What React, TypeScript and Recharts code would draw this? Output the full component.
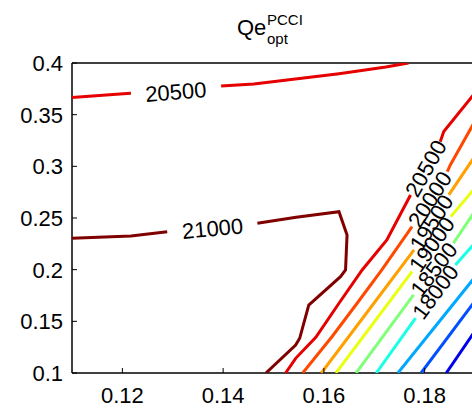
import React from "react";
import { ComposedChart, Line, Scatter, XAxis, YAxis, ReferenceLine } from "recharts";

// axis ticks
const xTicks = [0.12, 0.14, 0.16, 0.18];
const yTicks = [0.1, 0.15, 0.2, 0.25, 0.3, 0.35, 0.4];
const xDomain = [0.11, 0.19];
const yDomain = [0.1, 0.4];

// contour levels, each one a list of segments of [x, y] points
const levels = [21000, 20500, 20000, 19500, 19000, 18500, 18000, 17500, 17000, 16500];
const levelColors = ["#800000", "#e60000", "#ff4800", "#ffa000", "#eaff10", "#80ff78", "#18ffe8", "#00a8ff", "#0050ff", "#0000e8"];

const c21000 = [
  [[0.11, 0.2304], [0.1217, 0.2326], [0.1289, 0.2368]],
  [[0.1468, 0.2449], [0.1545, 0.2507], [0.163, 0.2561], [0.1646, 0.2336], [0.1643, 0.1997], [0.1633, 0.1932], [0.157, 0.1658], [0.1552, 0.1336], [0.1544, 0.1271], [0.1485, 0.1]],
];
const c20500 = [
  [[0.11, 0.3665], [0.1188, 0.3698], [0.1217, 0.3707]],
  [[0.1396, 0.3778], [0.1461, 0.3797], [0.163, 0.3897], [0.1723, 0.3962], [0.1768, 0.4]],
  [[0.1524, 0.1], [0.1544, 0.1142], [0.1584, 0.1346], [0.163, 0.1675], [0.1676, 0.1997], [0.1725, 0.2287], [0.1772, 0.2723]],
  [[0.1831, 0.3239], [0.1838, 0.3336], [0.19, 0.371]],
];
const c20000 = [
  [[0.1558, 0.1], [0.1616, 0.1351], [0.1666, 0.1675], [0.1715, 0.1997], [0.1775, 0.2416]],
  [[0.1845, 0.2949], [0.1851, 0.3013], [0.19, 0.3439]],
];
const c19500 = [
  [[0.1595, 0.1], [0.1687, 0.1595], [0.1779, 0.2191]],
  [[0.1848, 0.2723], [0.19, 0.31]],
];
const c19000 = [
  [[0.1624, 0.1], [0.1775, 0.1981]],
  [[0.1852, 0.2513], [0.19, 0.2791]],
];
const c18500 = [
  [[0.1664, 0.1], [0.1778, 0.1755]],
  [[0.1857, 0.2256], [0.19, 0.2568]],
];
const c18000 = [
  [[0.1704, 0.1], [0.1782, 0.153]],
  [[0.1861, 0.2045], [0.19, 0.2258]],
];
const c17500 = [[[0.1747, 0.1], [0.19, 0.1929]]];
const c17000 = [[[0.1793, 0.1], [0.19, 0.1697]]];
const c16500 = [[[0.1843, 0.1], [0.19, 0.1407]]];

const contourSets = [c21000, c20500, c20000, c19500, c19000, c18500, c18000, c17500, c17000, c16500];

// contour labels
const labelText = ["20500", "21000", "20500", "20000", "19500", "19000", "18500", "18000"];
const labelX = [0.1306, 0.1379, 0.1802, 0.181, 0.1813, 0.1814, 0.1818, 0.1821];
const labelY = [0.3723, 0.2401, 0.2981, 0.2682, 0.2457, 0.2247, 0.2005, 0.1787];
const labelAngle = [4.6, 5.3, 60.6, 57.2, 57.5, 54.5, 52.3, 53.1];

const labels = labelText.map((t, i) => ({ x: labelX[i], y: labelY[i], t, a: labelAngle[i] }));

const FONT = "'Liberation Sans', Arial, sans-serif";

const BottomTick = (props: any) => {
  const { x, y, payload } = props;
  return (
    <g>
      <line x1={x} x2={x} y1={y} y2={y - 5} stroke="#000" />
      <text x={x} y={y + 30} textAnchor="middle" fontSize={22} fontFamily={FONT} fill="#000">
        {payload.value}
      </text>
    </g>
  );
};

const TopTick = (props: any) => {
  const { x, y } = props;
  return <line x1={x} x2={x} y1={y} y2={y + 5} stroke="#000" />;
};

const LeftTick = (props: any) => {
  const { x, y, payload } = props;
  return (
    <g>
      <line x1={x} x2={x + 5} y1={y} y2={y} stroke="#000" />
      <text x={x - 9} y={y} dy="0.36em" textAnchor="end" fontSize={22} fontFamily={FONT} fill="#000">
        {payload.value}
      </text>
    </g>
  );
};

const RightTick = (props: any) => {
  const { x, y } = props;
  return <line x1={x} x2={x - 7} y1={y} y2={y} stroke="#000" strokeWidth={1.3} />;
};

const ContourLabel = (props: any) => {
  const { cx, cy, payload } = props;
  return (
    <text
      x={cx}
      y={cy}
      dy="0.36em"
      textAnchor="middle"
      fontSize={22}
      fontFamily={FONT}
      fill="#000"
      transform={`rotate(${-payload.a} ${cx} ${cy})`}
    >
      {payload.t}
    </text>
  );
};

export default function App() {
  const lines: React.ReactNode[] = [];
  contourSets.forEach((segs, li) => {
    segs.forEach((seg, si) => {
      const data = seg.map(([x, y]) => ({ x, y }));
      lines.push(
        <Line
          key={`${levels[li]}-${si}`}
          xAxisId="b"
          yAxisId="l"
          data={data}
          dataKey="y"
          type="linear"
          stroke={levelColors[li]}
          strokeWidth={3}
          dot={false}
          activeDot={false}
          isAnimationActive={false}
        />
      );
    });
  });

  return (
    <div style={{ position: "absolute", left: 0, top: 0, width: 472, height: 410, overflow: "hidden", background: "#fff" }}>
      <svg width={472} height={60} style={{ position: "absolute", left: 0, top: 0 }}>
        <text x={237} y={35} fontSize={22} fontFamily={FONT} fill="#000">Qe</text>
        <text x={267} y={25} fontSize={15} fontFamily={FONT} fill="#000">PCCI</text>
        <text x={267} y={44} fontSize={15} fontFamily={FONT} fill="#000">opt</text>
      </svg>
      <ComposedChart width={490} height={410} margin={{ top: 63, right: 15, bottom: 0, left: 0 }}>
        <XAxis
          xAxisId="b"
          type="number"
          dataKey="x"
          domain={xDomain}
          allowDataOverflow
          ticks={xTicks}
          orientation="bottom"
          height={37}
          tickSize={0}
          tickMargin={0}
          tick={<BottomTick />}
          axisLine={false}
        />
        <XAxis
          xAxisId="t"
          type="number"
          dataKey="x"
          domain={xDomain}
          allowDataOverflow
          ticks={xTicks}
          orientation="top"
          height={0}
          tickSize={0}
          tickMargin={0}
          tick={<TopTick />}
          axisLine={false}
        />
        <YAxis
          yAxisId="l"
          type="number"
          domain={yDomain}
          allowDataOverflow
          ticks={yTicks}
          width={72}
          tickSize={0}
          tickMargin={0}
          tick={<LeftTick />}
          axisLine={false}
        />
        <YAxis
          yAxisId="r"
          type="number"
          orientation="right"
          domain={yDomain}
          allowDataOverflow
          ticks={yTicks}
          width={0}
          tickSize={0}
          tickMargin={0}
          tick={<RightTick />}
          axisLine={false}
        />
        {/* plot box */}
        <ReferenceLine xAxisId="b" yAxisId="l" x={xDomain[0]} stroke="#000" strokeWidth={1.5} />
        <ReferenceLine xAxisId="b" yAxisId="l" x={xDomain[1]} stroke="#000" strokeWidth={1.5} />
        <ReferenceLine xAxisId="b" yAxisId="l" y={yDomain[0]} stroke="#000" strokeWidth={1.5} />
        <ReferenceLine xAxisId="b" yAxisId="l" y={yDomain[1]} stroke="#000" strokeWidth={1.5} />
        {lines}
        <Scatter
          xAxisId="t"
          yAxisId="r"
          data={labels}
          dataKey="y"
          shape={<ContourLabel />}
          isAnimationActive={false}
        />
      </ComposedChart>
    </div>
  );
}
